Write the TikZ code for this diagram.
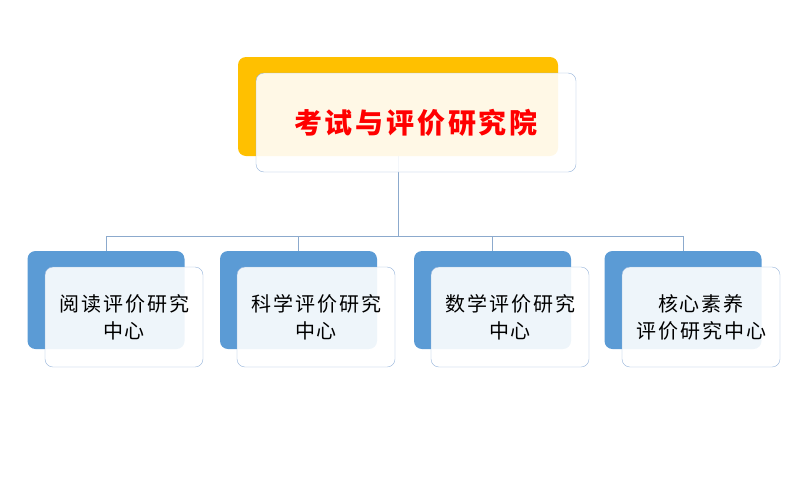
\documentclass[tikz,border=0pt]{standalone}
\usepackage{fontspec}
\newfontfamily\cjk{Noto Sans CJK SC}
\newfontfamily\cjkw{Noto Sans CJK SC}[LetterSpace=10]
\usetikzlibrary{backgrounds}
\definecolor{gold}{RGB}{255,192,0}
\definecolor{bblue}{RGB}{91,155,213}
\definecolor{edgeb}{RGB}{150,180,218}
\definecolor{lineb}{RGB}{140,170,205}
\tikzset{bk/.append style={rounded corners=8pt, inner sep=0pt, minimum width=157pt, minimum height=98pt, fill=bblue}}
\tikzset{fr/.append style={rounded corners=8pt, inner sep=0pt, minimum width=158pt, minimum height=100pt, draw=edgeb, fill=white, fill opacity=0.9, text opacity=1, align=center, font=\cjkw\fontsize{20}{27}\selectfont}}
\tikzset{gd/.append style={fill=gold, minimum width=320pt, minimum height=99pt}}
\tikzset{ln/.append style={draw=lineb, line width=0.8pt}}

\begin{document}
\begin{tikzpicture}[x=1pt,y=-1pt]
                \useasboundingbox (0,0) rectangle (800,493);
                % top box
                \node[bk,gd] (tb) at (398,106.5) {};
                \node[fr,minimum width=320pt,minimum height=99pt,font=\cjkw\bfseries\fontsize{28}{30}\selectfont,text=red] (t) at (416,122.5) {考试与评价研究院};
                % centres
                \node[bk] (b1) at (106,300) {};
                \node[bk] (b2) at (298.5,300) {};
                \node[bk] (b3) at (492.5,300) {};
                \node[bk] (b4) at (683,300) {};
                \node[fr] (f1) at (124,317) {阅读评价研究\\中心};
                \node[fr] (f2) at (316,317) {科学评价研究\\中心};
                \node[fr] (f3) at (510,317) {数学评价研究\\中心};
                \node[fr] (f4) at (701,317) {核心素养\\评价研究中心};
                \coordinate (j) at (398,236);
                \begin{scope}[on background layer]
                \path[ln] (tb.south) -- (j);
                \foreach \n in {1,...,4} \path[ln] (j) -| (b\n.north);
                \end{scope}
            \end{tikzpicture}
\end{document}
